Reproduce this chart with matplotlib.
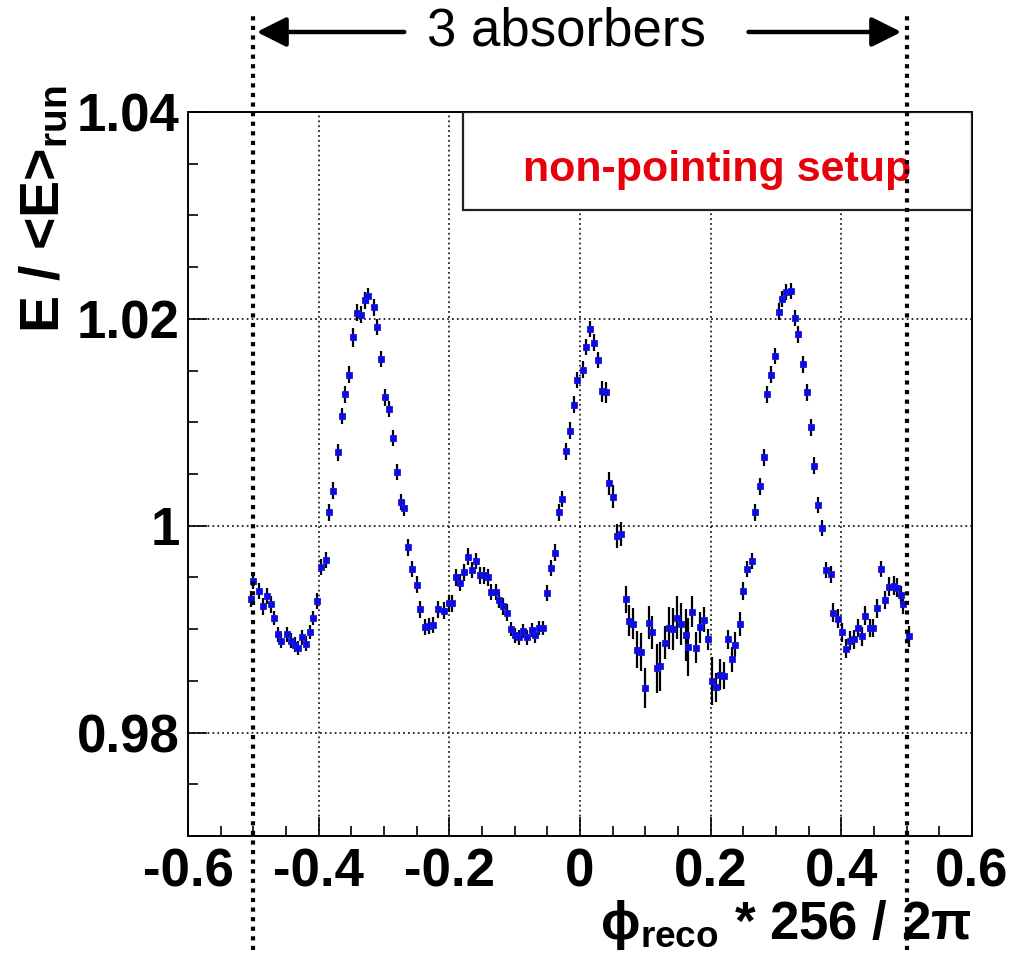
#! /usr/bin/env python3

import matplotlib
matplotlib.use("Agg")
import matplotlib.pyplot as plt
from matplotlib.patches import Rectangle
import numpy as np

plt.rcParams['font.family'] = ['Liberation Sans', 'DejaVu Sans']
plt.rcParams['mathtext.fontset'] = 'custom'
plt.rcParams['mathtext.rm'] = 'Liberation Sans'
plt.rcParams['mathtext.bf'] = 'Liberation Sans:bold'
plt.rcParams['mathtext.it'] = 'Liberation Sans:italic'

# reconstructed phi (in cell units) vs normalised energy
phi = [
    -0.504, -0.500, -0.492, -0.486, -0.479, -0.473, -0.468, -0.462, -0.458, -0.449,
    -0.443, -0.437, -0.431, -0.426, -0.419, -0.414, -0.408, -0.402, -0.396, -0.389,
    -0.384, -0.378, -0.371, -0.365, -0.359, -0.353, -0.347, -0.341, -0.335, -0.329,
    -0.324, -0.316, -0.310, -0.305, -0.299, -0.293, -0.286, -0.280, -0.274, -0.269,
    -0.263, -0.257, -0.250, -0.245, -0.237, -0.231, -0.225, -0.217, -0.208, -0.201,
    -0.196, -0.190, -0.184, -0.178, -0.172, -0.166, -0.159, -0.153, -0.147, -0.141,
    -0.136, -0.129, -0.124, -0.118, -0.112, -0.106, -0.100, -0.094, -0.087, -0.081,
    -0.074, -0.069, -0.063, -0.056, -0.051, -0.045, -0.038, -0.032, -0.027, -0.021,
    -0.015, -0.009, -0.004, 0.004, 0.009, 0.015, 0.021, 0.027, 0.033, 0.040,
    0.045, 0.051, 0.057, 0.063, 0.070, 0.075, 0.081, 0.087, 0.093, 0.099,
    0.106, 0.111, 0.118, 0.123, 0.130, 0.136, 0.142, 0.148, 0.154, 0.162,
    0.166, 0.172, 0.178, 0.184, 0.190, 0.196, 0.202, 0.208, 0.214, 0.221,
    0.226, 0.232, 0.238, 0.245, 0.250, 0.256, 0.263, 0.268, 0.275, 0.281,
    0.287, 0.292, 0.298, 0.304, 0.310, 0.316, 0.323, 0.329, 0.334, 0.341,
    0.347, 0.353, 0.359, 0.365, 0.371, 0.377, 0.384, 0.388, 0.395, 0.401,
    0.407, 0.413, 0.419, 0.425, 0.431, 0.437, 0.444, 0.449, 0.455, 0.461,
    0.467, 0.473, 0.480, 0.486, 0.491, 0.495, 0.503,
]
e_ratio = [
    0.9929, 0.9947, 0.9937, 0.9922, 0.9932, 0.9924, 0.9911, 0.9895, 0.9889, 0.9895,
    0.9889, 0.9885, 0.9882, 0.9892, 0.9886, 0.9897, 0.9911, 0.9927, 0.9960, 0.9967,
    1.0013, 1.0034, 1.0071, 1.0106, 1.0127, 1.0146, 1.0182, 1.0206, 1.0204, 1.0218,
    1.0222, 1.0211, 1.0192, 1.0161, 1.0124, 1.0113, 1.0085, 1.0052, 1.0023, 1.0017,
    0.9979, 0.9958, 0.9943, 0.9919, 0.9902, 0.9903, 0.9904, 0.9919, 0.9918, 0.9925,
    0.9925, 0.9950, 0.9945, 0.9955, 0.9970, 0.9957, 0.9966, 0.9952, 0.9952, 0.9950,
    0.9936, 0.9936, 0.9928, 0.9922, 0.9916, 0.9900, 0.9894, 0.9892, 0.9898, 0.9892,
    0.9899, 0.9894, 0.9901, 0.9901, 0.9935, 0.9959, 0.9974, 1.0013, 1.0026, 1.0072,
    1.0092, 1.0117, 1.0141, 1.0151, 1.0173, 1.0190, 1.0177, 1.0160, 1.0130, 1.0129,
    1.0041, 1.0028, 0.9990, 0.9992, 0.9929, 0.9908, 0.9905, 0.9880, 0.9878, 0.9843,
    0.9906, 0.9897, 0.9862, 0.9864, 0.9887, 0.9901, 0.9900, 0.9911, 0.9905, 0.9894,
    0.9883, 0.9917, 0.9882, 0.9902, 0.9909, 0.9890, 0.9850, 0.9844, 0.9856, 0.9855,
    0.9890, 0.9871, 0.9885, 0.9905, 0.9937, 0.9958, 0.9966, 1.0013, 1.0038, 1.0066,
    1.0127, 1.0146, 1.0164, 1.0207, 1.0219, 1.0226, 1.0227, 1.0201, 1.0185, 1.0156,
    1.0129, 1.0095, 1.0058, 1.0020, 0.9998, 0.9957, 0.9953, 0.9916, 0.9910, 0.9897,
    0.9881, 0.9889, 0.9890, 0.9901, 0.9893, 0.9913, 0.9901, 0.9901, 0.9920, 0.9958,
    0.9928, 0.9941, 0.9942, 0.9940, 0.9933, 0.9924, 0.9893,
]
e_err = [
    0.0008, 0.0008, 0.0008, 0.0008, 0.0008, 0.0008, 0.0007, 0.0007, 0.0007, 0.0007,
    0.0007, 0.0007, 0.0007, 0.0007, 0.0007, 0.0007, 0.0007, 0.0008, 0.0008, 0.0008,
    0.0008, 0.0008, 0.0008, 0.0008, 0.0008, 0.0008, 0.0009, 0.0008, 0.0008, 0.0008,
    0.0008, 0.0008, 0.0008, 0.0008, 0.0008, 0.0008, 0.0008, 0.0008, 0.0008, 0.0008,
    0.0008, 0.0008, 0.0008, 0.0008, 0.0008, 0.0008, 0.0008, 0.0008, 0.0008, 0.0008,
    0.0008, 0.0008, 0.0008, 0.0008, 0.0008, 0.0008, 0.0008, 0.0008, 0.0008, 0.0008,
    0.0008, 0.0008, 0.0008, 0.0008, 0.0008, 0.0007, 0.0007, 0.0007, 0.0007, 0.0007,
    0.0007, 0.0007, 0.0007, 0.0007, 0.0008, 0.0008, 0.0008, 0.0008, 0.0008, 0.0008,
    0.0008, 0.0008, 0.0008, 0.0008, 0.0008, 0.0008, 0.0008, 0.0008, 0.0010, 0.0010,
    0.0011, 0.0011, 0.0012, 0.0012, 0.0013, 0.0015, 0.0015, 0.0018, 0.0018, 0.0019,
    0.0016, 0.0016, 0.0024, 0.0024, 0.0016, 0.0020, 0.0020, 0.0021, 0.0020, 0.0025,
    0.0028, 0.0015, 0.0015, 0.0015, 0.0012, 0.0010, 0.0023, 0.0014, 0.0015, 0.0013,
    0.0009, 0.0012, 0.0012, 0.0012, 0.0009, 0.0008, 0.0008, 0.0008, 0.0008, 0.0008,
    0.0008, 0.0008, 0.0008, 0.0008, 0.0008, 0.0008, 0.0008, 0.0008, 0.0008, 0.0008,
    0.0008, 0.0008, 0.0008, 0.0008, 0.0008, 0.0008, 0.0008, 0.0009, 0.0009, 0.0009,
    0.0009, 0.0009, 0.0009, 0.0009, 0.0009, 0.0009, 0.0009, 0.0009, 0.0009, 0.0008,
    0.0009, 0.0009, 0.0009, 0.0009, 0.0009, 0.0009, 0.0010,
]

x_ticks = [-0.6, -0.4, -0.2, 0, 0.2, 0.4, 0.6]
x_ticklabels = ['-0.6', '-0.4', '-0.2', '0', '0.2', '0.4', '0.6']
y_ticks = [0.98, 1.00, 1.02, 1.04]
y_ticklabels = ['0.98', '1', '1.02', '1.04']
absorber_edges = [-0.5, 0.5]


def main():
    fig = plt.figure(figsize=(10.22, 9.73), dpi=100)
    ax = fig.add_axes([0.184, 0.1408, 0.767, 0.7441])

    ax.set_xlim(-0.6, 0.6)
    ax.set_ylim(0.97, 1.04)

    ax.errorbar(phi, e_ratio, yerr=e_err, fmt='s', ms=4.8, color='#0a0af0',
                mec='#1a1ad0', mew=0.6, ecolor='k', elinewidth=1.6, capsize=0, zorder=4)

    ax.set_xticks(x_ticks)
    ax.set_xticklabels(x_ticklabels)
    ax.set_yticks(y_ticks)
    ax.set_yticklabels(y_ticklabels)
    ax.set_xticks(np.arange(-0.6, 0.601, 0.05), minor=True)
    ax.set_yticks(np.arange(0.97, 1.0401, 0.005), minor=True)
    ax.tick_params(which='both', direction='in', top=False, right=False, width=1.2)
    ax.tick_params(which='major', length=14)
    ax.tick_params(which='minor', length=7)
    ax.tick_params(axis='x', which='major', labelsize=38, pad=8)
    ax.tick_params(axis='y', which='major', labelsize=38, pad=6)
    for lab in ax.get_xticklabels() + ax.get_yticklabels():
        lab.set_fontweight('bold')

    ax.grid(True, which='major', color='k', lw=1.1, linestyle=(0, (1.2, 2.0)), zorder=0)
    ax.set_axisbelow(True)
    for sp in ax.spines.values():
        sp.set_linewidth(1.4)

    # label box
    ax.add_patch(Rectangle((0.351, 0.8646), 0.649, 0.1354, transform=ax.transAxes,
                           facecolor='white', edgecolor='#222222', lw=1.6, zorder=3))
    ax.text(0.675, 0.92, 'non-pointing setup', transform=ax.transAxes, ha='center',
            va='center', color='#e8000b', fontsize=31, fontweight='bold', zorder=5)

    # axis titles
    ax.text(-0.182, 1.037, 'E / <E>$_{\\mathbf{run}}$', transform=ax.transAxes,
            rotation=90, ha='center', va='top', fontsize=40, fontweight='bold')
    ax.text(1.0, -0.123, '\u03d5$_{\\mathbf{reco}}$ * 256 / 2\u03c0', transform=ax.transAxes,
            ha='right', va='center', fontsize=38, fontweight='bold')

    # absorber boundaries
    for xe in absorber_edges:
        ax.axvline(xe, ymin=-0.157, ymax=1.134, color='k', lw=3.0,
                   linestyle=(0, (1.0, 1.3)), clip_on=False, zorder=6)

    arrow_kw = dict(arrowstyle='-|>,head_length=0.6,head_width=0.3', lw=3.2, color='k',
                    mutation_scale=30, shrinkA=0, shrinkB=0)
    ax.annotate('', xy=(-0.495, 1.1105), xytext=(-0.269, 1.1105),
                xycoords=('data', 'axes fraction'), textcoords=('data', 'axes fraction'),
                arrowprops=arrow_kw, annotation_clip=False)
    ax.annotate('', xy=(0.492, 1.1105), xytext=(0.258, 1.1105),
                xycoords=('data', 'axes fraction'), textcoords=('data', 'axes fraction'),
                arrowprops=arrow_kw, annotation_clip=False)
    ax.text(-0.02, 1.1105, '3 absorbers', transform=ax.get_xaxis_transform(),
            ha='center', va='center', fontsize=38)

    fig.savefig('out.png', dpi=100)


if __name__ == '__main__':
    main()
